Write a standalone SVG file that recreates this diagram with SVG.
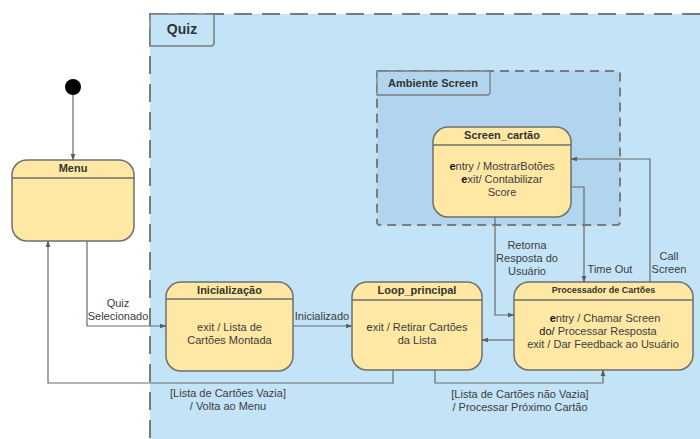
<svg xmlns="http://www.w3.org/2000/svg" width="700" height="439" viewBox="0 0 700 439">
<defs>
<marker id="ah" viewBox="0 0 10 10" refX="9" refY="5" markerWidth="7" markerHeight="7" orient="auto-start-reverse" markerUnits="userSpaceOnUse">
<path d="M0,1.5 L10,5 L0,8.5 z" fill="#5e5e5e"/>
</marker>
<style>
.st{fill:#ffe8a4;stroke:#6f6f6f;stroke-width:1.5}
.hl{stroke:#6f6f6f;stroke-width:1.5}
.t{font-family:"Liberation Sans",Arial,sans-serif;font-size:11px;fill:#3c3c3c;text-anchor:middle}
.b{font-weight:bold;fill:#333}
.c{fill:none;stroke:#6a6a6a;stroke-width:1.2}
.k{font-weight:bold;fill:#111}
</style>
</defs>
<rect width="700" height="439" fill="#ffffff"/>
<g id="quiz">
<rect x="150" y="14" width="570" height="440" fill="#c3e4f7" stroke="#7b7b7b" stroke-width="2" stroke-dasharray="18 10"/>
<path d="M150,14 H214 V43 Q214,46 211,46 H150 Z" fill="#c3e4f7" stroke="#7b7b7b" stroke-width="1.5"/>
<text x="182" y="34" class="t b" style="font-size:14px">Quiz</text>
</g>
<g id="ambiente">
<rect x="377" y="71" width="243" height="154" rx="3" fill="#b2d5ef" stroke="#7b7b7b" stroke-width="2" stroke-dasharray="9 6"/>
<path d="M377,71 H490 V92 Q490,95 487,95 H377 Z" fill="#b2d5ef" stroke="#7b7b7b" stroke-width="1.3"/>
<text x="433" y="87" class="t b">Ambiente Screen</text>
</g>
<g id="initial">
<circle cx="73" cy="87" r="8" fill="#000"/>
</g>
<g id="menu">
<rect x="12" y="160" width="122" height="81" rx="15" class="st"/>
<line x1="12" y1="178" x2="134" y2="178" class="hl"/>
<text x="73" y="172" class="t b">Menu</text>
</g>
<g id="screen">
<rect x="433" y="127" width="138" height="90" rx="15" class="st"/>
<line x1="433" y1="145" x2="571" y2="145" class="hl"/>
<text x="502" y="139" class="t b">Screen_cartão</text>
<text x="502" y="170" class="t"><tspan class="k">e</tspan>ntry / MostrarBotões</text>
<text x="502" y="183" class="t"><tspan class="k">e</tspan>xit/ Contabilizar</text>
<text x="502" y="196" class="t">Score</text>
</g>
<g id="inicializacao">
<rect x="166" y="282" width="127" height="89" rx="15" class="st"/>
<line x1="166" y1="299" x2="293" y2="299" class="hl"/>
<text x="229.5" y="294" class="t b">Inicialização</text>
<text x="229.5" y="331" class="t">exit / Lista de</text>
<text x="229.5" y="344" class="t">Cartões Montada</text>
</g>
<g id="loop">
<rect x="352" y="282" width="130" height="88" rx="15" class="st"/>
<line x1="352" y1="300" x2="482" y2="300" class="hl"/>
<text x="417" y="294" class="t b">Loop_principal</text>
<text x="417" y="331" class="t"><tspan class="k" style="font-weight:normal;fill:#222">e</tspan>xit / Retirar Cartões</text>
<text x="417" y="344" class="t">da Lista</text>
</g>
<g id="processador">
<rect x="514" y="282" width="179" height="88" rx="15" class="st"/>
<line x1="514" y1="300" x2="693" y2="300" class="hl"/>
<text x="603.5" y="293" class="t b" style="font-size:9px">Processador de Cartões</text>
<text x="605" y="322" class="t"><tspan class="k">e</tspan>ntry / Chamar Screen</text>
<text x="598" y="335" class="t"><tspan style="fill:#111">do/</tspan> Processar Resposta</text>
<text x="603" y="348" class="t">exit / Dar Feedback ao Usuário</text>
</g>
<g id="connectors">
<path d="M73,95 V160" class="c" marker-end="url(#ah)"/>
<path d="M87,241 V326 H166" class="c" marker-end="url(#ah)"/>
<path d="M293,326 H352" class="c" marker-end="url(#ah)"/>
<path d="M514,340 H482" class="c" marker-end="url(#ah)"/>
<path d="M393,370 V383 H48 V241" class="c" marker-end="url(#ah)"/>
<path d="M435,370 V383 H603 V370" class="c" marker-end="url(#ah)"/>
<path d="M650,282 V159 H571" class="c" marker-end="url(#ah)"/>
<path d="M571,187 H584 V282" class="c" marker-end="url(#ah)"/>
<path d="M495,217 V315 H514" class="c" marker-end="url(#ah)"/>
<text x="118" y="307" class="t">Quiz</text>
<text x="118" y="320" class="t">Selecionado</text>
<text x="322" y="320" class="t">Inicializado</text>
<text x="228" y="397" class="t">[Lista de Cartões Vazia]</text>
<text x="228" y="410" class="t">/ Volta ao Menu</text>
<text x="520" y="398" class="t">[Lista de Cartões não Vazia]</text>
<text x="520" y="411" class="t">/ Processar Próximo Cartão</text>
<text x="527" y="249" class="t">Retorna</text>
<text x="527" y="262" class="t">Resposta do</text>
<text x="527" y="275" class="t">Usuário</text>
<text x="610" y="273" class="t">Time Out</text>
<text x="669" y="260" class="t">Call</text>
<text x="669" y="273" class="t">Screen</text>
</g>
</svg>
